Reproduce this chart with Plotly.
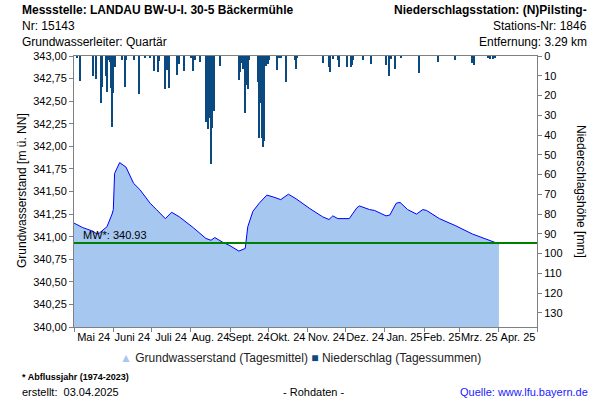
"""Groundwater level with daily precipitation, LANDAU BW-U-I. 30-5."""

import pandas as pd
import plotly.graph_objects as go

# Grundwasserstand (Tagesmittel), m ü. NN
gw_dates = [
    "2024-05-01", "2024-05-08", "2024-05-16", "2024-05-19", "2024-05-21",
    "2024-05-27", "2024-05-31", "2024-06-01", "2024-06-02", "2024-06-05",
    "2024-06-06", "2024-06-11", "2024-06-17", "2024-06-22", "2024-06-30",
    "2024-07-05", "2024-07-12", "2024-07-17", "2024-07-23", "2024-08-03",
    "2024-08-13", "2024-08-17", "2024-08-20", "2024-08-26", "2024-09-01",
    "2024-09-08", "2024-09-13", "2024-09-15", "2024-09-19", "2024-09-24",
    "2024-09-30", "2024-10-05", "2024-10-11", "2024-10-17", "2024-10-23",
    "2024-11-03", "2024-11-13", "2024-11-18", "2024-11-21", "2024-11-25",
    "2024-12-04", "2024-12-10", "2024-12-12", "2024-12-20", "2024-12-24",
    "2025-01-02", "2025-01-05", "2025-01-10", "2025-01-13", "2025-01-19",
    "2025-01-26", "2025-01-31", "2025-02-03", "2025-02-13", "2025-02-26",
    "2025-03-11", "2025-03-24", "2025-03-31", "2025-04-01",
]
gw_levels = [
    341.15, 341.10, 341.06, 341.03, 341.04,
    341.11, 341.25, 341.30, 341.70, 341.79,
    341.82, 341.77, 341.59, 341.52, 341.37,
    341.30, 341.20, 341.27, 341.22, 341.10,
    340.98, 340.96, 340.99, 340.94, 340.90,
    340.84, 340.87, 341.11, 341.28, 341.37,
    341.46, 341.44, 341.41, 341.47, 341.42,
    341.31, 341.22, 341.19, 341.23, 341.20,
    341.20, 341.32, 341.34, 341.30, 341.29,
    341.23, 341.24, 341.37, 341.38, 341.30,
    341.25, 341.30, 341.29, 341.20, 341.12,
    341.03, 340.96, 340.92, 340.92,
]

# Niederschlag (Tagessummen), mm
rain_dates = [
    "2024-05-03", "2024-05-06", "2024-05-16", "2024-05-18", "2024-05-22",
    "2024-05-23", "2024-05-26", "2024-05-27", "2024-05-28", "2024-05-29",
    "2024-05-30", "2024-05-31", "2024-06-01", "2024-06-02", "2024-06-08",
    "2024-06-10", "2024-06-11", "2024-06-17", "2024-06-21", "2024-06-26",
    "2024-06-30", "2024-07-03", "2024-07-06", "2024-07-07", "2024-07-12",
    "2024-07-13", "2024-07-15", "2024-07-21", "2024-07-23", "2024-07-27",
    "2024-08-01", "2024-08-03", "2024-08-04", "2024-08-08", "2024-08-13",
    "2024-08-14", "2024-08-15", "2024-08-16", "2024-08-17", "2024-08-18",
    "2024-08-19", "2024-08-24", "2024-09-08", "2024-09-09", "2024-09-10",
    "2024-09-11", "2024-09-13", "2024-09-14", "2024-09-15", "2024-09-16",
    "2024-09-23", "2024-09-24", "2024-09-25", "2024-09-26", "2024-09-27",
    "2024-09-28", "2024-09-29", "2024-10-01", "2024-10-02", "2024-10-08",
    "2024-10-10", "2024-10-11", "2024-10-15", "2024-10-22", "2024-10-23",
    "2024-10-24", "2024-11-13", "2024-11-18", "2024-11-19", "2024-11-21",
    "2024-11-25", "2024-11-26", "2024-12-02", "2024-12-05", "2024-12-06",
    "2024-12-07", "2024-12-15", "2024-12-21", "2025-01-02", "2025-01-04",
    "2025-01-06", "2025-01-09", "2025-01-14", "2025-01-28", "2025-02-12",
    "2025-02-25", "2025-03-11", "2025-03-12", "2025-03-23", "2025-03-25",
    "2025-03-27", "2025-03-29",
]
rain_mm = [
    1.0, 12.5, 10.0, 11.5, 23.6,
    15.9, 10.0, 18.0, 2.0, 3.0,
    16.4, 35.8, 18.9, 5.4, 2.0,
    15.5, 2.0, 2.0, 19.4, 1.0,
    1.0, 7.4, 7.9, 2.5, 16.9,
    6.9, 16.4, 9.6, 4.0, 7.6,
    1.0, 7.6, 2.0, 3.2, 33.3,
    9.6, 37.1, 31.6, 54.8, 36.6,
    27.8, 5.0, 12.2, 7.9, 3.5,
    6.7, 29.0, 14.7, 16.9, 2.0,
    13.0, 41.7, 23.6, 41.7, 46.2,
    42.9, 5.0, 4.0, 2.0, 7.0,
    1.0, 1.0, 13.0, 2.0, 6.7,
    1.0, 3.5, 5.4, 7.9, 1.5,
    2.0, 5.4, 5.7, 5.7, 4.6,
    2.0, 2.0, 4.0, 4.6, 10.0,
    1.5, 6.7, 1.0, 8.4, 2.9,
    2.0, 3.7, 4.6, 1.0, 1.7,
    1.5, 1.0,
]

mw_value = 340.93
month_labels = [
    "Mai 24", "Juni 24", "Juli 24", "Aug. 24", "Sept. 24", "Okt. 24",
    "Nov. 24", "Dez. 24", "Jan. 25", "Feb. 25", "Mrz. 25", "Apr. 25",
]

# page geometry (plot area in pixels)
W, H = 600, 400
L, R, T, B = 74, 537, 56, 327
FONT = "Liberation Sans, Arial, sans-serif"
GREY = "#808080"
AREA_FILL = "#a6c8f0"
RAIN_COLOR = "#0b4a80"


def paper_x(px):
    return (px - L) / (R - L)


def paper_y(py):
    return (B - py) / (B - T)


month_starts = pd.date_range("2024-05-01", periods=13, freq="MS")
month_mids = [a + (b - a) / 2 for a, b in zip(month_starts[:-1], month_starts[1:])]

fig = go.Figure()

fig.add_trace(
    go.Scatter(
        x=pd.to_datetime(gw_dates),
        y=gw_levels,
        mode="lines",
        fill="tozeroy",
        fillcolor=AREA_FILL,
        line=dict(color="#0000ff", width=1),
        name="Grundwasserstand (Tagesmittel)",
    )
)

fig.add_trace(
    go.Bar(
        x=pd.to_datetime(rain_dates),
        y=rain_mm,
        yaxis="y2",
        width=86400000 * 0.8,
        marker=dict(color=RAIN_COLOR, line=dict(width=0)),
        name="Niederschlag (Tagessummen)",
    )
)

fig.add_hline(y=mw_value, line=dict(color="#008000", width=2))

fig.update_layout(
    width=W,
    height=H,
    margin=dict(l=L, r=W - R, t=T, b=H - B),
    paper_bgcolor="white",
    plot_bgcolor="white",
    separators=",.",
    font=dict(family=FONT, size=11, color="#000000"),
    bargap=0,
    showlegend=False,
    xaxis=dict(
        type="date",
        range=[month_starts[0], month_starts[-1]],
        tickmode="array",
        tickvals=month_mids,
        ticktext=month_labels,
        tickangle=0,
        ticks="",
        automargin=False,
        showgrid=False,
        showline=True,
        linecolor=GREY,
        linewidth=1,
        mirror=True,
        tickfont=dict(size=11),
        minor=dict(
            tickmode="array",
            tickvals=list(month_starts),
            ticks="outside",
            ticklen=4,
            tickcolor=GREY,
            showgrid=False,
        ),
    ),
    yaxis=dict(
        range=[340, 343],
        dtick=0.25,
        tick0=340,
        tickformat=".2f",
        ticks="outside",
        ticklen=4,
        tickcolor=GREY,
        automargin=False,
        showgrid=False,
        showline=True,
        linecolor=GREY,
        linewidth=1,
        zeroline=False,
        tickfont=dict(size=11),
    ),
    yaxis2=dict(
        overlaying="y",
        side="right",
        range=[137.2, 0],
        dtick=10,
        tick0=0,
        ticks="outside",
        ticklen=4,
        tickcolor=GREY,
        automargin=False,
        showgrid=False,
        showline=True,
        linecolor=GREY,
        linewidth=1,
        zeroline=False,
        tickfont=dict(size=11),
    ),
)

legend_text = (
    f'<span style="color:{AREA_FILL}">▲</span> Grundwasserstand (Tagesmittel) '
    f'<span style="color:{RAIN_COLOR}">■</span> Niederschlag (Tagessummen)'
)

texts = [
    (20, 10, "<b>Messstelle: LANDAU BW-U-I. 30-5 Bäckermühle</b>", "left", 12, "#000000"),
    (20, 26, "Nr: 15143", "left", 12, "#000000"),
    (20, 42, "Grundwasserleiter: Quartär", "left", 12, "#000000"),
    (589, 10, "<b>Niederschlagsstation: (N)Pilsting-</b>", "right", 12, "#000000"),
    (589, 26, "Stations-Nr: 1846", "right", 12, "#000000"),
    (589, 42, "Entfernung: 3.29 km", "right", 12, "#000000"),
    (300, 358, legend_text, "center", 12, "#222222"),
    (20, 377, "<b>* Abflussjahr (1974-2023)</b>", "left", 9, "#000000"),
    (20, 392, "erstellt:  03.04.2025", "left", 11, "#000000"),
    (313, 392, "- Rohdaten -", "center", 11, "#000000"),
    (590, 392, "Quelle: www.lfu.bayern.de", "right", 11, "#1a1aff"),
]
for px, py, txt, anchor, size, color in texts:
    fig.add_annotation(
        x=paper_x(px), y=paper_y(py), xref="paper", yref="paper",
        text=txt, showarrow=False, xanchor=anchor, yanchor="middle",
        font=dict(size=size, color=color),
    )

fig.add_annotation(
    x=paper_x(22), y=paper_y(191), xref="paper", yref="paper",
    text="Grundwasserstand [m ü. NN]", textangle=-90, showarrow=False,
    xanchor="center", yanchor="middle", font=dict(size=12),
)
fig.add_annotation(
    x=paper_x(581), y=paper_y(191), xref="paper", yref="paper",
    text="Niederschlagshöhe [mm]", textangle=90, showarrow=False,
    xanchor="center", yanchor="middle", font=dict(size=12),
)
fig.add_annotation(
    x=paper_x(81), y=mw_value, xref="paper", yref="y",
    text=f"MW*: {mw_value:.2f}", showarrow=False,
    xanchor="left", yanchor="bottom", font=dict(size=11),
)

fig.write_html(
    "out.html",
    config={"displayModeBar": False},
    post_script="document.body.style.margin='0';",
)
